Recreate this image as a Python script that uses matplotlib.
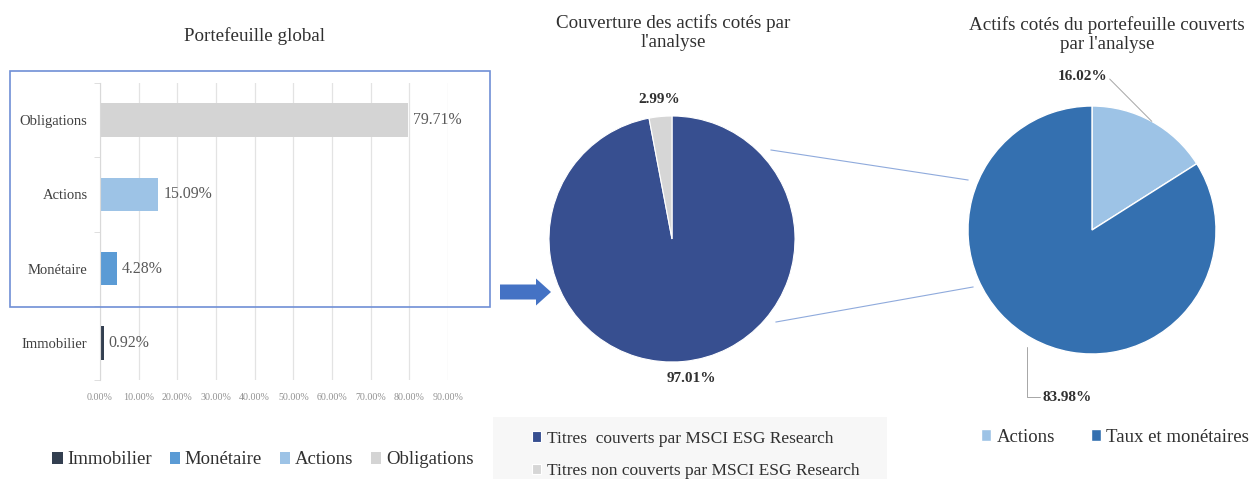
import numpy as np
import matplotlib.pyplot as plt
from matplotlib.patches import Rectangle, FancyArrow
from matplotlib.lines import Line2D

plt.rcParams['font.family'] = ['Liberation Serif', 'DejaVu Serif']

# data
bar_cats = ["Immobilier", "Monétaire", "Actions", "Obligations"]
bar_vals = [0.92, 4.28, 15.09, 79.71]
bar_colors = ["#333F50", "#5B9BD5", "#9DC3E6", "#D4D4D4"]
bar_ticks = [0, 10, 20, 30, 40, 50, 60, 70, 80, 90]

cov_labels = ["Titres  couverts par MSCI ESG Research", "Titres non couverts par MSCI ESG Research"]
cov_vals = [97.01, 2.99]
cov_colors = ["#374F90", "#D6D6D6"]

act_labels = ["Actions", "Taux et monétaires"]
act_vals = [16.02, 83.98]
act_colors = ["#9DC3E6", "#3470B0"]

W, H = 1251, 479
fig = plt.figure(figsize=(W / 100, H / 100), dpi=100)


def box(x0, y0, x1, y1):
    # pixel box (top-left origin) -> figure fraction rect
    return [x0 / W, 1 - y1 / H, (x1 - x0) / W, (y1 - y0) / H]


def px(x, y):
    return x / W, 1 - y / H


txt = "#404040"
ttl = 13.7

# ---------- bar chart ----------
ax = fig.add_axes(box(100, 83, 448, 380))
bars = ax.barh(bar_cats, bar_vals, height=0.45, color=bar_colors)
for b, v in zip(bars, bar_vals):
    ax.text(v + 1.3, b.get_y() + b.get_height() / 2, f"{v:.2f}%", va="center", ha="left",
            fontsize=11.4, color="#595959")
ax.set_xlim(0, 90)
ax.set_ylim(-0.5, 3.5)
ax.set_xticks(bar_ticks)
ax.set_xticklabels([f"{t:.2f}%" for t in bar_ticks], fontsize=7.2, color="#909090")
ax.tick_params(axis="x", length=0, pad=9)
ax.tick_params(axis="y", length=0, pad=9, labelsize=10.5, labelcolor=txt)
ax.set_yticks(np.arange(-0.5, 4, 1), minor=True)
ax.tick_params(axis="y", which="minor", length=4, color="#D9D9D9")
ax.grid(axis="x", color="#E3E3E3", lw=0.9)
ax.set_axisbelow(True)
for s in ["top", "right", "bottom"]:
    ax.spines[s].set_visible(False)
ax.spines["left"].set_color("#D9D9D9")
fig.text(*px(255, 36), "Portefeuille global", ha="center", va="center", fontsize=ttl, color="#303030")
fig.add_artist(Rectangle(px(10, 307), 480 / W, (307 - 71) / H, transform=fig.transFigure,
                         fill=False, ec="#6F8FD6", lw=1.2))
ax.legend(bars, bar_cats, ncol=4, loc="center", bbox_to_anchor=(*px(263, 460),),
          bbox_transform=fig.transFigure, frameon=False, fontsize=13.5, handlelength=0.55,
          handleheight=0.55, handletextpad=0.25, columnspacing=0.95, labelcolor="#303030")

# ---------- pie 1 ----------
fig.add_artist(Rectangle(px(493, 479), (887 - 493) / W, (479 - 417) / H, transform=fig.transFigure,
                         fc="#F7F7F7", ec="none", zorder=0))
c1, r1 = (672, 239), 123
h1 = 1.4 * r1
ax1 = fig.add_axes(box(c1[0] - h1, c1[1] - h1, c1[0] + h1, c1[1] + h1))
w1, _, t1 = ax1.pie(cov_vals, colors=cov_colors, startangle=90, counterclock=False,
                    autopct="%.2f%%", pctdistance=1.14,
                    wedgeprops=dict(edgecolor="white", linewidth=0.8),
                    textprops=dict(fontsize=11, fontweight="bold", color="#303030"))
t1[0].set_position((t1[0].get_position()[0] + 0.05, t1[0].get_position()[1]))
ax1.set_xlim(-1.4, 1.4)
ax1.set_ylim(-1.4, 1.4)
ax1.set_aspect("equal")
ax1.axis("off")
fig.text(*px(673, 33), "Couverture des actifs cotés par\nl'analyse", ha="center", va="center",
         fontsize=ttl, color="#303030", linespacing=1.15)
fig.legend(w1, cov_labels, loc="upper left", bbox_to_anchor=px(516, 415), frameon=False,
           fontsize=12.5, handlelength=0.55, handleheight=0.55, handletextpad=0.35,
           labelspacing=0.95, labelcolor="#303030")

# ---------- pie 2 ----------
c2, r2 = (1092, 230), 124
h2 = 1.4 * r2
ax2 = fig.add_axes(box(c2[0] - h2, c2[1] - h2, c2[0] + h2, c2[1] + h2))
w2, _ = ax2.pie(act_vals, colors=act_colors, startangle=90, counterclock=False,
                wedgeprops=dict(edgecolor="white", linewidth=1.0))
ax2.set_xlim(-1.4, 1.4)
ax2.set_ylim(-1.4, 1.4)
ax2.set_aspect("equal")
ax2.axis("off")
lbl_pos = [(-0.08, 1.24), (-0.2, -1.35)]
for w, v, pos, k in zip(w2, act_vals, lbl_pos, range(2)):
    th = np.deg2rad((w.theta1 + w.theta2) / 2)
    edge = (np.cos(th) * 1.0, np.sin(th) * 1.0)
    if k == 0:
        ax2.annotate(f"{v:.2f}%", xy=edge, xytext=pos, ha="center", va="center",
                     fontsize=11, fontweight="bold", color="#303030",
                     arrowprops=dict(arrowstyle="-", color="#A6A6A6", lw=0.7,
                                     relpos=(1, 0.5), shrinkA=0, shrinkB=0))
    else:
        ax2.annotate(f"{v:.2f}%", xy=(edge[0] * 1.08, edge[1] * 1.08), xytext=pos,
                     ha="center", va="center", fontsize=11, fontweight="bold", color="#303030",
                     arrowprops=dict(arrowstyle="-", color="#A6A6A6", lw=0.7, relpos=(0, 0.5),
                                     connectionstyle="angle,angleA=0,angleB=90,rad=0",
                                     shrinkA=0, shrinkB=0))
fig.text(*px(1107, 35), "Actifs cotés du portefeuille couverts\npar l'analyse", ha="center",
         va="center", fontsize=ttl, color="#303030", linespacing=1.15)
fig.legend(w2, act_labels, ncol=2, loc="center", bbox_to_anchor=px(1115, 437), frameon=False,
           fontsize=13.5, handlelength=0.55, handleheight=0.55, handletextpad=0.3,
           columnspacing=1.9, labelcolor="#303030")

# ---------- connectors and arrow ----------
for p0, p1 in [((771, 150), (968, 180)), ((776, 322), (973, 287))]:
    fig.add_artist(Line2D([p0[0] / W, p1[0] / W], [1 - p0[1] / H, 1 - p1[1] / H],
                          transform=fig.transFigure, color="#8FAADC", lw=0.8))
fig.add_artist(FancyArrow(*px(500, 292), 51 / W, 0, width=15 / H, head_width=27 / H,
                          head_length=15 / W, length_includes_head=True,
                          transform=fig.transFigure, color="#4472C4", lw=0))

fig.savefig("out.png", dpi=100)
